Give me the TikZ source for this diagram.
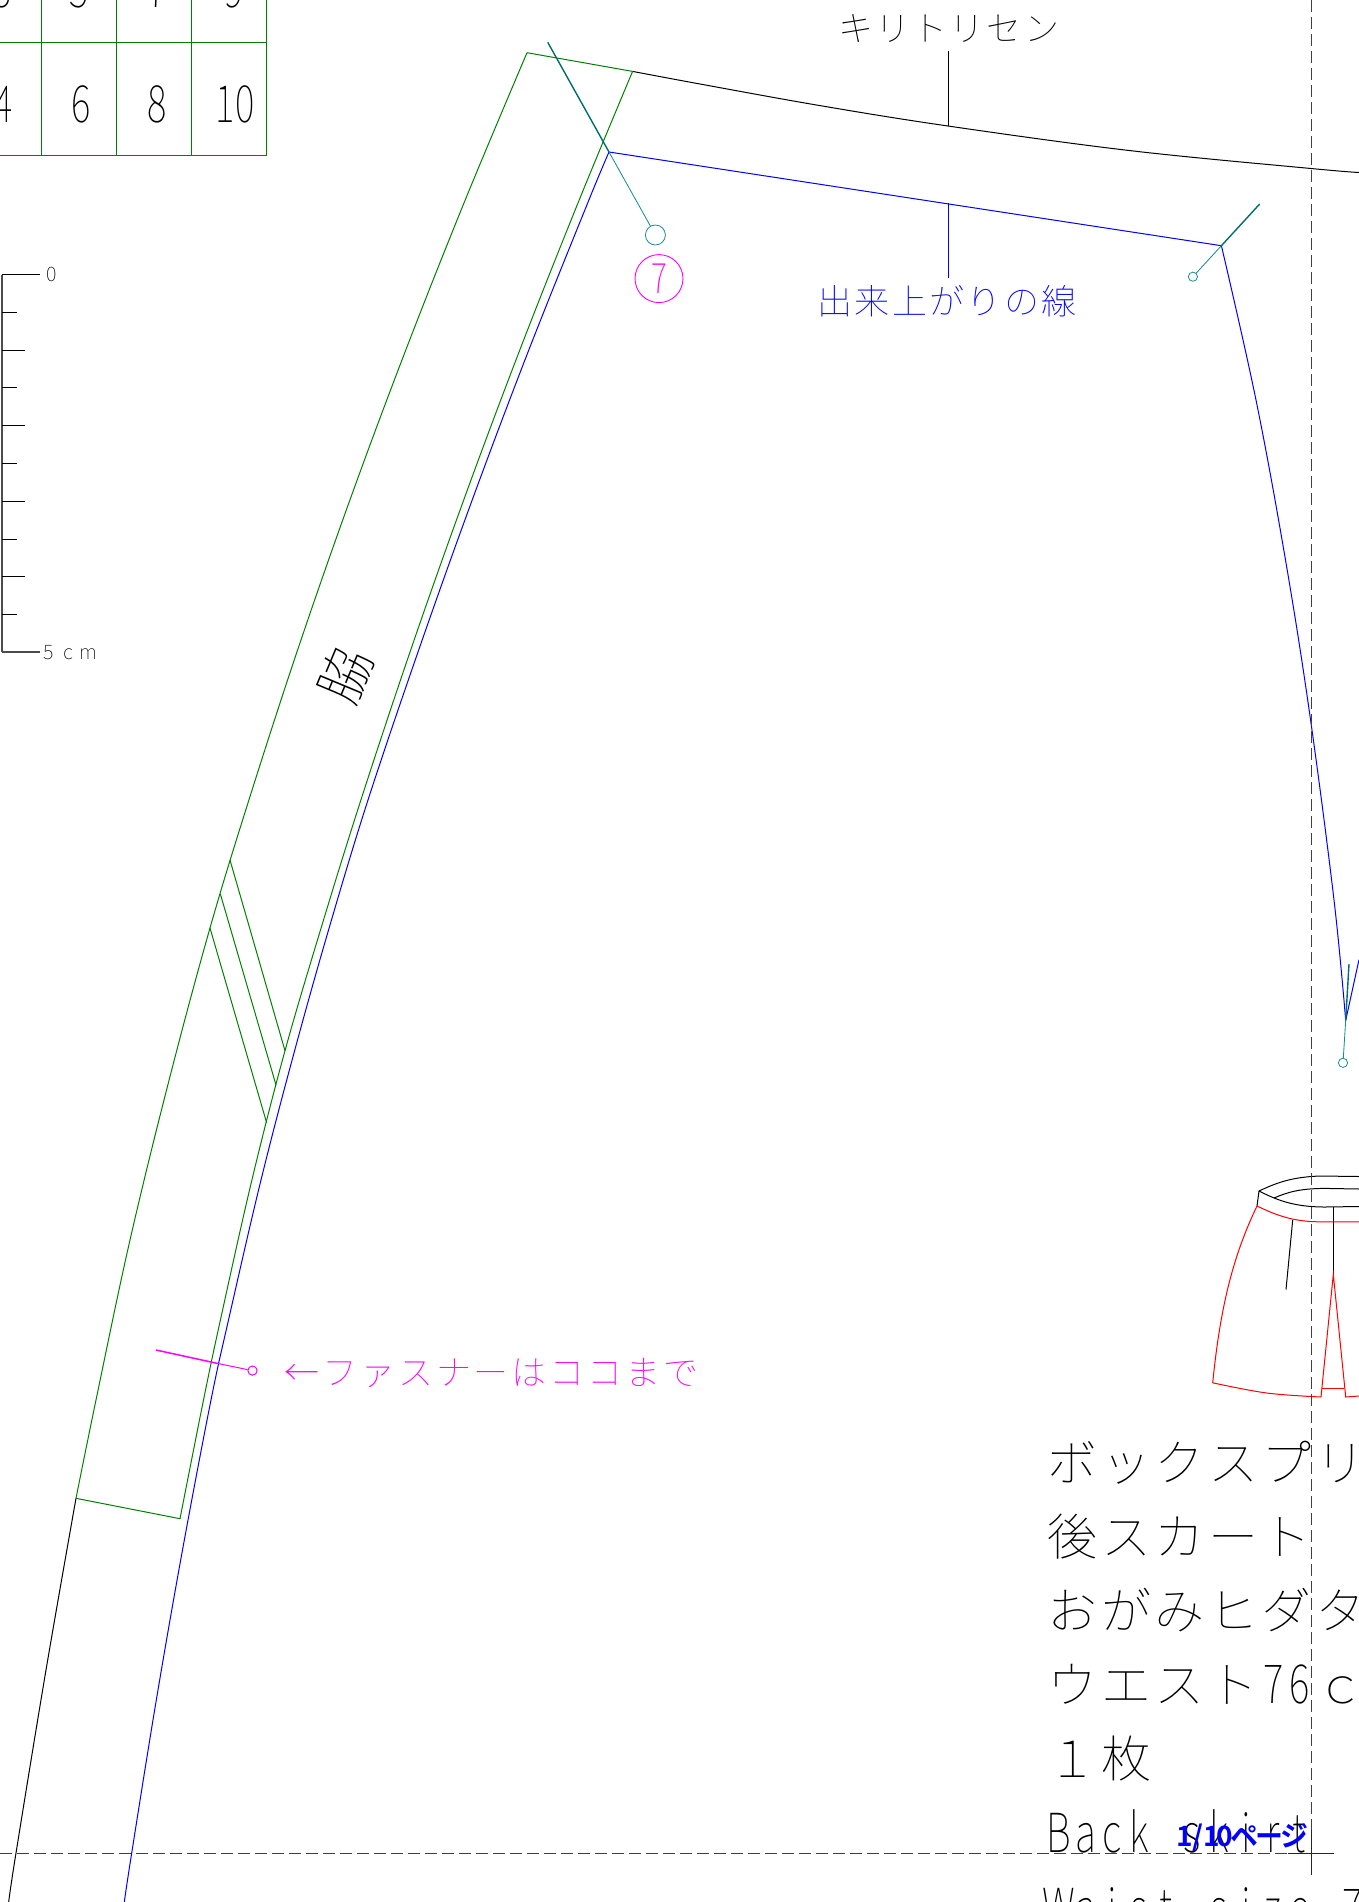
\documentclass[tikz,border=0pt]{standalone}
\usepackage{fontspec}
\setmainfont{Noto Sans CJK JP Thin}
\newfontfamily\latn[FakeStretch=0.72]{Noto Sans CJK JP Thin}
\newfontfamily\latnsmall{Noto Sans CJK JP Thin}
\newfontfamily\pagefont{Noto Sans CJK JP Bold}
\makeatletter
\newcommand\pitched[2]{\def\pitchw{#1}\@tfor\pitchc:=#2\do{\makebox[\pitchw][c]{\pitchc}}}
\makeatother
\definecolor{pgreen}{RGB}{0,128,0}
\definecolor{pblue}{RGB}{0,0,255}
\definecolor{pteal}{RGB}{0,128,128}
\definecolor{pmag}{RGB}{255,0,255}
\definecolor{pred}{RGB}{255,0,0}
\tikzset{
  thinline/.style={line width=0.5pt,line join=miter},
  gl/.style={thinline,pgreen},
  bl/.style={thinline,pblue},
  kl/.style={thinline,black},
  rl/.style={thinline,pred},
  tl/.style={line width=0.42pt,pteal!90!white},
  tld/.style={line width=0.7pt,pteal!85!black},
  ml/.style={line width=0.5pt,pmag},
  guide/.style={line width=0.5pt,black!75,dash pattern=on 6pt off 2.5pt},
  solidguide/.style={line width=0.5pt,black!85},
  txt/.style={inner sep=0pt,outer sep=0pt,anchor=base west},
  pin/.style={circle,draw,inner sep=0pt,minimum size=4.6pt},
  num/.style={inner sep=0pt,outer sep=0pt,anchor=base,font=\latn\fontsize{25.7pt}{26pt}\selectfont},
  small/.style={inner sep=0pt,outer sep=0pt,anchor=base,font=\latnsmall\fontsize{10pt}{11pt}\selectfont},
}
\begin{document}
\begin{tikzpicture}[x=0.5pt,y=-0.5pt]
\useasboundingbox (0,0) rectangle (1359,1902);
\clip (0,0) rectangle (1359,1902);
% size grid
\foreach \gy in {42.4,155.8}{\draw[gl] (0,\gy) -- (266.5,\gy);}
\foreach \gx in {41,116,191.5,266.5}{\draw[gl] (\gx,0) -- (\gx,155.8);}
\node[num] (n3) at (2,7.5) {3};
\node[num] (n5) at (79,7.5) {5};
\node[num] (n7) at (157,7.5) {7};
\node[num] (n9) at (234,7.5) {9};
\node[num] (n4) at (3,122) {4};
\node[num] (n6) at (81,122) {6};
\node[num] (n8) at (157.5,122) {8};
\node[num] (n10) at (235,122) {10};
% ruler
\draw[thinline,black!70,line width=0.9pt] (2,274.5) -- (2,652);
\draw[kl] (2,274.5) -- (39.7,274.5);
\draw[thinline,black!70,line width=0.7pt] (2,652) -- (39.7,652);
\foreach \ry in {312,387.5,463,539,614}{\draw[kl] (2,\ry) -- (17,\ry);}
\foreach \ry in {350,425,501,576}{\draw[kl] (2,\ry) -- (24.5,\ry);}
\node[small] (r0) at (52,281) {0};
\node[small] (r5) at (49,659) {5};
\node[small] (rc) at (68,659) {c};
\node[small] (rm) at (88,659) {m};
% named points
\coordinate (A) at (527,52.7);
\coordinate (B) at (632.6,71.4);
\coordinate (C) at (609,152);
\coordinate (D) at (1221.4,245.7);
\coordinate (E) at (76,1498.3);
\coordinate (F) at (180,1518.7);
\coordinate (N) at (1345.7,1020.4);
% cut line
\draw[kl] plot[smooth,tension=0.6] coordinates {(B) (700,84) (820,105.6) (948,126) (1130,150.6) (1311,168.5) (1359,172.5)};
\draw[kl] plot[smooth,tension=0.6] coordinates {(E) (46,1670) (16,1853) (8.7,1902)};
% green band
\draw[gl] (A) -- (B);
\draw[gl] plot[smooth,tension=0.6] coordinates {(A) (465.2,200) (405.8,350) (349.9,500) (297.6,650) (248.9,800) (210,928) (169.1,1080) (130,1240) (96,1400) (E)};
\draw[gl] plot[smooth,tension=0.6] coordinates {(B) (579.2,200) (519.8,350) (463.7,500) (410.7,650) (360.9,800) (322,925) (285,1050.7) (251.9,1180) (220.4,1320) (203.5,1400) (F)};
\draw[gl] (E) -- (F);
\draw[gl] (230,860) -- (285,1050.7);
\draw[gl] (220.3,893.8) -- (276,1085);
\draw[gl] (210,928) -- (266.6,1122.6);
% finished line
\draw[bl] (C) -- (D);
\draw[bl] plot[smooth,tension=0.6] coordinates {(C) (588.9,200) (528.8,350) (472.2,500) (418.7,650) (368,800) (330,925) (294.8,1050) (261,1180) (228.5,1320) (211,1400) (182.5,1550) (156.3,1700) (131.7,1853) (124.3,1902)};
\draw[bl] plot[smooth,tension=0.6] coordinates {(D) (1256,400) (1285.5,560) (1310,716) (1334,900) (N)};
\draw[bl] (N) -- (1359,959.6);
% leaders
\draw[kl] (948,51) -- (948,126);
\draw[bl] (948,203) -- (948,277.7);
% teal marks
\node[pin,pteal!90!white] (c1) at (655.4,235) [minimum size=10pt] {};
\draw[tld] (547.8,42.4) -- (C);
\draw[tl] (C) -- (c1);
\node[pin,pteal!90!white] (c2) at (1192.9,276.7) {};
\draw[tld] (1259.7,204) -- (D);
\draw[tl] (D) -- (c2);
\node[pin,pteal!90!white] (c3) at (1343,1062.8) {};
\draw[tld] (1349,964) -- (N);
\draw[tl] (N) -- (c3);
% circled seven
\node[circle,draw=pmag,line width=0.45pt,minimum size=24pt,inner sep=0pt,text=pmag,font=\latn\fontsize{21pt}{22pt}\selectfont] (seven) at (659,278.6) {7};
% zipper mark
\node[pin,pmag,line width=0.5pt] (c4) at (252.5,1370.6) {};
\coordinate (Zs) at (156,1350);
\draw[line width=0.75pt,pmag] (Zs) -- (218,1363.5);
\draw[ml] (218,1363.5) -- (c4);
% labels
\node[txt,font=\fontsize{17.5pt}{18pt}\selectfont] (kiri) at (837,41) {\pitched{18.6pt}{キリトリセン}};
\node[txt,pblue,font=\fontsize{17.5pt}{18pt}\selectfont] (deki) at (816,314) {\pitched{18.7pt}{出来上がりの線}};
\node[txt,pmag,font=\fontsize{17.5pt}{18pt}\selectfont] (zip) at (283,1385) {\pitched{18.95pt}{←ファスナーはココまで}};
\node[inner sep=0pt,rotate=67.4,font=\fontsize{27pt}{28pt}\selectfont] (waki) at (345,675) {脇};
% sketch
\draw[kl] (1259,1191) .. controls (1280,1181) and (1295,1177) .. (1320,1176) -- (1359,1176.5);
\draw[kl] (1274,1198) .. controls (1288,1192) and (1300,1188.5) .. (1325,1188.4) -- (1359,1189);
\draw[kl] (1259,1191) .. controls (1275,1199) and (1292,1207) .. (1325,1207) -- (1359,1206.5);
\draw[kl] (1259,1191) -- (1257,1206);
\draw[kl] (1292.7,1220) -- (1286,1289.5);
\draw[kl] (1333.3,1207) -- (1333.3,1274.4);
\draw[rl] (1257,1206) .. controls (1272,1213) and (1290,1221.8) .. (1320,1221.8) -- (1359,1221.8);
\draw[rl] (1257,1206) .. controls (1232,1258) and (1220,1310) .. (1212.7,1382.8);
\draw[rl] plot[smooth,tension=0.6] coordinates {(1212.7,1382.8) (1266.7,1393) (1321,1397)};
\draw[rl] (1321,1397) -- (1333.3,1274.4) -- (1345.7,1397) -- (1359,1396);
\draw[rl] (1321.7,1388.8) -- (1344.3,1388.8);
% title block
\node[txt,font=\fontsize{25pt}{26pt}\selectfont] (t1) at (1046,1481) {\pitched{26.75pt}{ボックスプリ}};
\node[txt,font=\fontsize{25pt}{26pt}\selectfont] (t2) at (1046,1555) {\pitched{26.75pt}{後スカート}};
\node[txt,font=\fontsize{25pt}{26pt}\selectfont] (t3) at (1046,1629) {\pitched{26.75pt}{おがみヒダタ}};
\node[txt,font=\fontsize{25pt}{26pt}\selectfont] (t4) at (1046,1703) {\pitched{26.75pt}{ウエスト}{\latn\fontsize{27pt}{28pt}\selectfont\pitched{13.35pt}{76}}\pitched{26.75pt}{ｃ}};
\node[txt,font=\fontsize{25pt}{26pt}\selectfont] (t5) at (1046,1777) {\pitched{26.75pt}{１枚}};
\node[txt,font=\latn\fontsize{27pt}{28pt}\selectfont] (t6) at (1045.7,1852) {\pitched{13.35pt}{Back~skirt}};
\node[txt,font=\latn\fontsize{27pt}{28pt}\selectfont] (t7) at (1045.7,1927) {\pitched{13.35pt}{Waist~size~7}};
% fold guides
\draw[guide] (1311,0) -- (1311,1830);
\draw[solidguide] (1311,1830) -- (1311,1875);
\draw[guide] (0,1853) -- (1288,1853);
\draw[solidguide] (1288,1853) -- (1334,1853);
% page label
\node[txt,pblue,font=\pagefont\fontsize{14pt}{15pt}\selectfont] (page) at (1178,1846) {\pitched{6.7pt}{1/10}\pitched{12.5pt}{ページ}};
\end{tikzpicture}
\end{document}
